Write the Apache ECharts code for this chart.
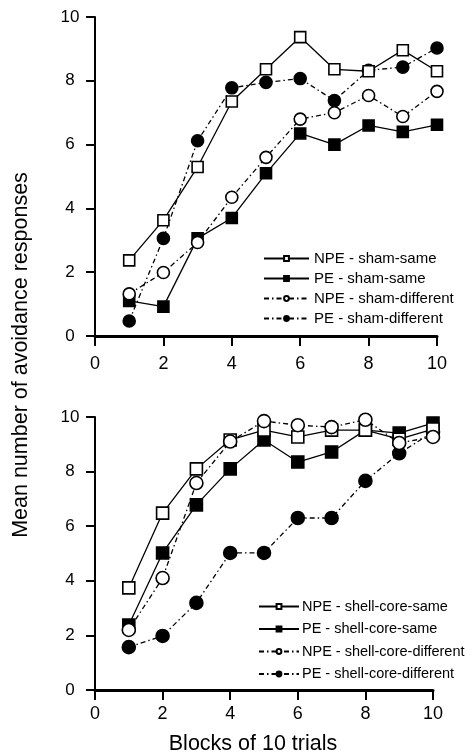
<!DOCTYPE html>
<html>
<head>
<meta charset="utf-8">
<script src="https://cdn.jsdelivr.net/npm/echarts@6/dist/echarts.min.js"></script>
<style>
  html, body { margin: 0; padding: 0; background: #fff; }
  #chart { width: 470px; height: 753px; }
</style>
</head>
<body>
<div id="chart"></div>
<script>
var blocks = [1, 2, 3, 4, 5, 6, 7, 8, 9, 10];

// top panel: sham
var shamNpeSame = [2.37, 3.63, 5.3, 7.35, 8.36, 9.37, 8.36, 8.3, 8.96, 8.3];
var shamPeSame = [1.1, 0.92, 3.06, 3.7, 5.1, 6.35, 6.0, 6.6, 6.4, 6.62];
var shamNpeDiff = [1.32, 1.99, 2.93, 4.35, 5.6, 6.8, 7.0, 7.54, 6.88, 7.67];
var shamPeDiff = [0.47, 3.06, 6.12, 7.78, 7.95, 8.07, 7.38, 8.33, 8.43, 9.03];

// bottom panel: shell-core
var shellNpeSame = [3.74, 6.48, 8.1, 9.16, 9.52, 9.27, 9.52, 9.52, 9.19, 9.56];
var shellPeSame = [2.38, 5.02, 6.78, 8.1, 9.16, 8.35, 8.72, 9.52, 9.41, 9.78];
var shellNpeDiff = [2.2, 4.1, 7.58, 9.1, 9.85, 9.7, 9.63, 9.9, 9.05, 9.27];
var shellPeDiff = [1.57, 1.98, 3.19, 5.02, 5.02, 6.3, 6.3, 7.66, 8.67, 9.45];

var topNames = ['NPE - sham-same', 'PE - sham-same', 'NPE - sham-different', 'PE - sham-different'];
var botNames = ['NPE - shell-core-same', 'PE - shell-core-same', 'NPE - shell-core-different', 'PE - shell-core-different'];

var font = 'Liberation Sans, Arial, sans-serif';
var dotted = [5, 3, 1.5, 3];

function pairs(vals) {
  return blocks.map(function (b, i) { return [b, vals[i]]; });
}

function mkSeries(name, vals, idx, symbol, size, filled, dashed) {
  return {
    name: name,
    type: 'line',
    xAxisIndex: idx,
    yAxisIndex: idx,
    data: pairs(vals),
    symbol: symbol,
    symbolSize: size,
    showSymbol: true,
    lineStyle: { color: '#000', width: 1.3, type: dashed ? dotted : 'solid' },
    itemStyle: { color: filled ? '#000' : '#fff', borderColor: '#000', borderWidth: 1.6 },
    emphasis: { disabled: true },
    z: filled ? 3 : 4
  };
}

function mkX(idx, labelMargin) {
  return {
    type: 'value', gridIndex: idx, min: 0, max: 10, interval: 2,
    axisLine: { show: true, lineStyle: { color: '#000', width: 3 } },
    axisTick: { show: true, inside: false, length: 10, lineStyle: { color: '#000', width: 2 } },
    axisLabel: { color: '#000', fontSize: 18, fontFamily: font, margin: labelMargin },
    splitLine: { show: false }
  };
}

function mkY(idx) {
  return {
    type: 'value', gridIndex: idx, min: 0, max: 10, interval: 2,
    axisLine: { show: true, lineStyle: { color: '#000', width: 2 } },
    axisTick: { show: true, inside: false, length: 9, lineStyle: { color: '#000', width: 2 } },
    axisLabel: { color: '#000', fontSize: 17, fontFamily: font, margin: 25, align: 'center' },
    splitLine: { show: false }
  };
}

var legendBase = {
  orient: 'vertical',
  padding: 0,
  itemHeight: 6,
  selectedMode: false
};

var chart = echarts.init(document.getElementById('chart'), null, { renderer: 'canvas' });

var option = {
  backgroundColor: '#fff',
  animation: false,
  grid: [
    { left: 95, top: 17, width: 342, height: 319 },
    { left: 95, top: 417, width: 338, height: 273 }
  ],
  xAxis: [mkX(0, 19), mkX(1, 15)],
  yAxis: [mkY(0), mkY(1)],
  legend: [
    Object.assign({}, legendBase, {
      data: topNames, left: 263, top: 251, itemWidth: 45, itemGap: 5,
      textStyle: { color: '#000', fontSize: 15, fontFamily: font }
    }),
    Object.assign({}, legendBase, {
      data: botNames, left: 258, top: 599, itemWidth: 40, itemGap: 7.5,
      textStyle: { color: '#000', fontSize: 14.5, fontFamily: font, padding: [0, 0, 0, -2] }
    })
  ],
  graphic: [{
    type: 'text',
    x: 21,
    y: 355,
    rotation: Math.PI / 2,
    style: {
      text: 'Mean number of avoidance responses',
      fill: '#000',
      font: '21.5px ' + font,
      align: 'center',
      verticalAlign: 'middle'
    }
  }, {
    type: 'text',
    x: 253,
    y: 744,
    style: {
      text: 'Blocks of 10 trials',
      fill: '#000',
      font: '21.5px ' + font,
      align: 'center',
      verticalAlign: 'middle'
    }
  }],
  series: [
    mkSeries(topNames[0], shamNpeSame, 0, 'rect', 11, false, false),
    mkSeries(topNames[1], shamPeSame, 0, 'rect', 11, true, false),
    mkSeries(topNames[2], shamNpeDiff, 0, 'circle', 12, false, true),
    mkSeries(topNames[3], shamPeDiff, 0, 'circle', 12, true, true),
    mkSeries(botNames[0], shellNpeSame, 1, 'rect', 12, false, false),
    mkSeries(botNames[1], shellPeSame, 1, 'rect', 12, true, false),
    mkSeries(botNames[2], shellNpeDiff, 1, 'circle', 13, false, true),
    mkSeries(botNames[3], shellPeDiff, 1, 'circle', 13, true, true)
  ]
};

chart.setOption(option);
window.addEventListener('resize', chart.resize);
</script>
</body>
</html>
